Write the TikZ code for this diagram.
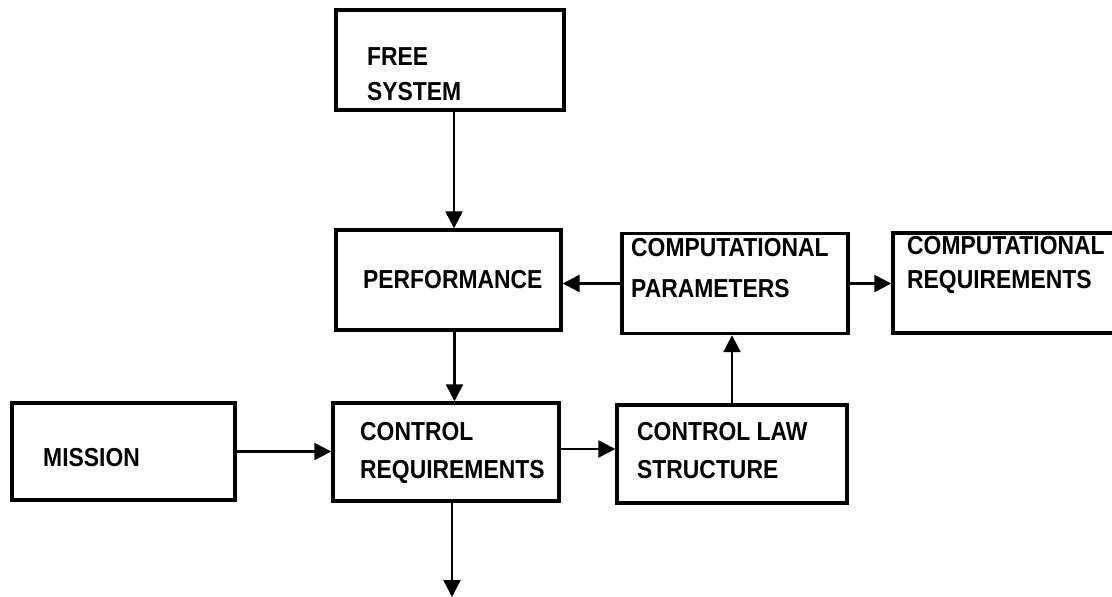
\documentclass[tikz,border=0pt]{standalone}
\usepackage{fontspec}
\setmainfont{Liberation Sans}
\newfontfamily\diagfont[FakeStretch=0.88]{Liberation Sans}
\usetikzlibrary{arrows.meta}
\begin{document}
\begin{tikzpicture}[x=1pt,y=-1pt,
  box/.style={draw,line width=3.4pt,rectangle,minimum width=#1,minimum height=100pt,inner sep=0pt},
  lbl/.style={anchor=base west,inner sep=0pt,font=\diagfont\fontsize{26}{30}\selectfont\bfseries},
  arr/.style={line width=2.4pt,-{Triangle[length=17pt,width=17pt]}}]
\useasboundingbox (0,0) rectangle (1112,597);
\begin{scope}
\clip (0,0) rectangle (1112,597);
\node[box=228pt] (fs) at (450,60) {};
\node[box=225pt] (perf) at (448.5,280) {};
\node[box=226pt] (cp) at (735,283.5) {};
\node[box=240pt] (cr) at (1013,283) {};
\node[box=223pt,minimum height=97pt] (mis) at (123.5,451.5) {};
\node[box=226pt,minimum height=98pt] (creq) at (446,452) {};
\node[box=230pt,minimum height=98pt] (cls) at (732,454) {};
\end{scope}
\node[lbl] (t1) at (367,65) {FREE};
\node[lbl] (t2) at (367,100) {SYSTEM};
\node[lbl] (t3) at (363,288) {PERFORMANCE};
\node[lbl] (t4) at (631,256) {COMPUTATIONAL};
\node[lbl] (t5) at (631,297) {PARAMETERS};
\node[lbl] (t6) at (907,254) {COMPUTATIONAL};
\node[lbl] (t7) at (907,288) {REQUIREMENTS};
\node[lbl] (t8) at (43,466) {MISSION};
\node[lbl] (t9) at (360,440) {CONTROL};
\node[lbl] (t10) at (360,478) {REQUIREMENTS};
\node[lbl] (t11) at (637,440) {CONTROL LAW};
\node[lbl] (t12) at (637,478) {STRUCTURE};
\coordinate (out) at (452,597);
\draw[arr] ([xshift=4pt]fs.south) -- ([xshift=4pt]fs.south |- perf.north);
\draw[arr] ([xshift=6pt]perf.south) -- ([xshift=6pt]perf.south |- creq.north);
\draw[arr] ([xshift=6pt]creq.south) -- (out);
\draw[arr] (cp.west) -- (cp.west -| perf.east);
\draw[arr] (cp.east) -- (cp.east -| cr.west);
\draw[arr] (mis.east) -- (mis.east -| creq.west);
\draw[arr] ([yshift=3pt]creq.east) -- ([yshift=3pt]creq.east -| cls.west);
\draw[arr] (cls.north) -- (cls.north |- cp.south);
\end{tikzpicture}
\end{document}
